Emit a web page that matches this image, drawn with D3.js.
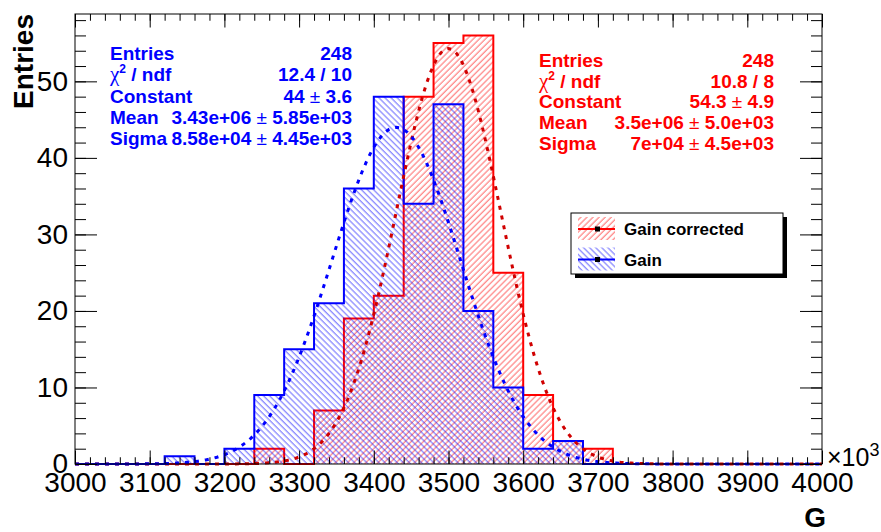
<!DOCTYPE html>
<html><head><meta charset="utf-8">
<script src="https://cdn.jsdelivr.net/npm/d3@7"></script>
<style>
body{margin:0;background:#fff}
svg{display:block}
text{font-family:"Liberation Sans",Arial,Helvetica,sans-serif}
</style>
</head><body>
<svg id="c" width="881" height="532"></svg>
<script>
// ---------- data ----------
const binLow = [3000,3040,3080,3120,3160,3200,3240,3280,3320,3360,3400,3440,3480,3520,3560,3600,3640,3680,3720,3760,3800,3840,3880,3920,3960];
const binWidth = 40;
const gainCorrected = [0,0,0,0,0,0,2,0,7,19,22,48,55,56,25,9,3,2,0,0,0,0,0,0,0];
const gain          = [0,0,0,1,0,2,9,15,21,36,48,34,47,20,10,2,3,0,0,0,0,0,0,0,0];
const fitGainCorrected = [54.3, 3500, 70];   // constant, mean (x10^3), sigma (x10^3)
const fitGain          = [44, 3430, 85.8];
const xTickValues = [3000,3100,3200,3300,3400,3500,3600,3700,3800,3900,4000];
const xTickLabels = ["3000","3100","3200","3300","3400","3500","3600","3700","3800","3900","4000"];
const yTickValues = [0,10,20,30,40,50];
const yTickLabels = ["0","10","20","30","40","50"];
const statLabels = ["Entries","χ2 / ndf","Constant","Mean","Sigma"];
const statsGain = ["248","12.4 / 10","44 ± 3.6","3.43e+06 ± 5.85e+03","8.58e+04 ± 4.45e+03"];
const statsGainCorrected = ["248","10.8 / 8","54.3 ± 4.9","3.5e+06 ± 5.0e+03","7e+04 ± 4.5e+03"];
const legendLabels = ["Gain corrected","Gain"];

// ---------- layout ----------
const svg = d3.select("#c");
const L = 75, R = 822, T = 14, B = 464;
const x = d3.scaleLinear().domain([3000,4000]).range([L,R]);
const y = d3.scaleLinear().domain([0,58.8]).range([B,T]);
const RED = "#ff0000", BLUE = "#0000ff";

const defs = svg.append("defs");
function hatch(id, color, angle){
  const p = defs.append("pattern").attr("id",id).attr("patternUnits","userSpaceOnUse")
    .attr("width",4.3).attr("height",10).attr("patternTransform",`rotate(${angle})`);
  p.append("line").attr("x1",1).attr("x2",1).attr("y1",0).attr("y2",10)
    .attr("stroke",color).attr("stroke-width",1).attr("stroke-opacity",0.6);
}
hatch("hRed", RED, 45);
hatch("hBlue", BLUE, -45);

// histograms
function pts(counts){
  const p = counts.map((c,i)=>[binLow[i], c]);
  p.push([binLow[binLow.length-1]+binWidth, counts[counts.length-1]]);
  return p;
}
const area = d3.area().curve(d3.curveStepAfter).x(d=>x(d[0])).y0(y(0)).y1(d=>y(d[1]));
function outline(counts){
  const p = [[binLow[0],0]];
  counts.forEach((c,i)=>{ p.push([binLow[i],c]); p.push([binLow[i]+binWidth,c]); });
  p.push([binLow[binLow.length-1]+binWidth,0]);
  return d3.line().x(d=>x(d[0])).y(d=>y(d[1]))(p);
}
const gHist = svg.append("g");
gHist.append("path").attr("d",area(pts(gainCorrected))).attr("fill","url(#hRed)");
gHist.append("path").attr("d",outline(gainCorrected)).attr("fill","none").attr("stroke",RED).attr("stroke-width",2);
gHist.append("path").attr("d",area(pts(gain))).attr("fill","url(#hBlue)");
gHist.append("path").attr("d",outline(gain)).attr("fill","none").attr("stroke",BLUE).attr("stroke-width",2);

// fits
function gaus(par){
  return d3.range(3000, 4000.01, 5).map(v=>[v, par[0]*Math.exp(-0.5*Math.pow((v-par[1])/par[2],2))]);
}
const fitLine = d3.line().x(d=>x(d[0])).y(d=>y(d[1]));
svg.append("path").attr("d",fitLine(gaus(fitGainCorrected))).attr("fill","none")
  .attr("stroke","#d00000").attr("stroke-width",3).attr("stroke-dasharray","4,6");
svg.append("path").attr("d",fitLine(gaus(fitGain))).attr("fill","none")
  .attr("stroke",BLUE).attr("stroke-width",3).attr("stroke-dasharray","4,6");

// frame
svg.append("rect").attr("x",L).attr("y",T).attr("width",R-L).attr("height",B-T)
  .attr("fill","none").attr("stroke","#000").attr("stroke-width",1);

// axes
const xMinor = d3.range(3000,4000.1,20);
const yMinor = d3.range(0,58.8,2);
function styleAxis(g){ g.select(".domain").remove(); g.selectAll("line").attr("stroke","#000"); }
const fmtX = d=>xTickLabels[xTickValues.indexOf(d)];
const fmtY = d=>yTickLabels[yTickValues.indexOf(d)];
svg.append("g").attr("transform",`translate(0,${B})`)
  .call(d3.axisBottom(x).tickValues(xTickValues).tickFormat(fmtX).tickSize(-13.5).tickPadding(8))
  .call(styleAxis)
  .selectAll("text").attr("font-size",28).attr("fill","#000").attr("font-family","Liberation Sans, Arial, sans-serif");
svg.append("g").attr("transform",`translate(0,${B})`)
  .call(d3.axisBottom(x).tickValues(xMinor).tickFormat("").tickSize(-6.75)).call(styleAxis);
svg.append("g").attr("transform",`translate(0,${T})`)
  .call(d3.axisTop(x).tickValues(xTickValues).tickFormat("").tickSize(-13.5)).call(styleAxis);
svg.append("g").attr("transform",`translate(0,${T})`)
  .call(d3.axisTop(x).tickValues(xMinor).tickFormat("").tickSize(-6.75)).call(styleAxis);
svg.append("g").attr("transform",`translate(${L},0)`)
  .call(d3.axisLeft(y).tickValues(yTickValues).tickFormat(fmtY).tickSize(-22).tickPadding(7))
  .call(styleAxis)
  .selectAll("text").attr("font-size",28).attr("fill","#000").attr("font-family","Liberation Sans, Arial, sans-serif");
svg.append("g").attr("transform",`translate(${L},0)`)
  .call(d3.axisLeft(y).tickValues(yMinor).tickFormat("").tickSize(-11)).call(styleAxis);
svg.append("g").attr("transform",`translate(${R},0)`)
  .call(d3.axisRight(y).tickValues(yTickValues).tickFormat("").tickSize(-22)).call(styleAxis);
svg.append("g").attr("transform",`translate(${R},0)`)
  .call(d3.axisRight(y).tickValues(yMinor).tickFormat("").tickSize(-11)).call(styleAxis);

// axis titles
svg.append("text").attr("transform","translate(33,14) rotate(-90)").attr("text-anchor","end")
  .attr("font-size",28).attr("font-weight","bold").text("Entries");
svg.append("text").attr("x",826).attr("y",527).attr("text-anchor","end")
  .attr("font-size",28).attr("font-weight","bold").text("G");
const mult = svg.append("text").attr("x",827).attr("y",466).attr("font-size",25);
mult.append("tspan").text("×10");
mult.append("tspan").attr("dy",-10).attr("font-size",18).text("3");

// stats boxes
function stats(values, color, xl, xr, y0, dy){
  const g = svg.append("g").attr("fill",color).attr("font-size",19).attr("font-weight","bold");
  statLabels.forEach((lab,i)=>{
    const t = g.append("text").attr("x",xl).attr("y",y0+i*dy);
    if(lab.startsWith("χ2")){
      t.append("tspan").attr("font-family","Liberation Serif, serif").attr("font-weight","normal").attr("font-size",21).text("χ");
      t.append("tspan").attr("dy",-8).attr("font-size",12).text("2");
      t.append("tspan").attr("dy",8).text(lab.slice(2));
    } else t.text(lab);
    const v = g.append("text").attr("x",xr).attr("y",y0+i*dy).attr("text-anchor","end");
    const parts = values[i].split("±");
    v.append("tspan").text(parts[0]);
    if(parts.length>1){
      v.append("tspan").attr("font-weight","normal").text("±");
      v.append("tspan").text(parts[1]);
    }
  });
}
stats(statsGain, BLUE, 110, 352, 60, 21.3);
stats(statsGainCorrected, RED, 539, 774, 67, 20.7);

// legend
const lg = svg.append("g");
lg.append("rect").attr("x",575).attr("y",217).attr("width",212).attr("height",61).attr("fill","#000");
lg.append("rect").attr("x",571).attr("y",213).attr("width",212).attr("height",61).attr("fill","#fff").attr("stroke","#000").attr("stroke-width",1);
const legendFill = ["url(#hRed)","url(#hBlue)"], legendColor=[RED,BLUE];
legendLabels.forEach((lab,i)=>{
  const cy = 229 + i*30.5;
  lg.append("rect").attr("x",578).attr("y",cy-12).attr("width",37).attr("height",23).attr("fill",legendFill[i]);
  lg.append("line").attr("x1",578).attr("x2",615).attr("y1",cy).attr("y2",cy).attr("stroke",legendColor[i]).attr("stroke-width",2);
  lg.append("rect").attr("x",595).attr("y",cy-2.5).attr("width",5).attr("height",5).attr("fill","#000");
  lg.append("text").attr("x",624).attr("y",cy+6).attr("font-size",17).attr("font-weight","bold").text(lab);
});
</script>
</body></html>
